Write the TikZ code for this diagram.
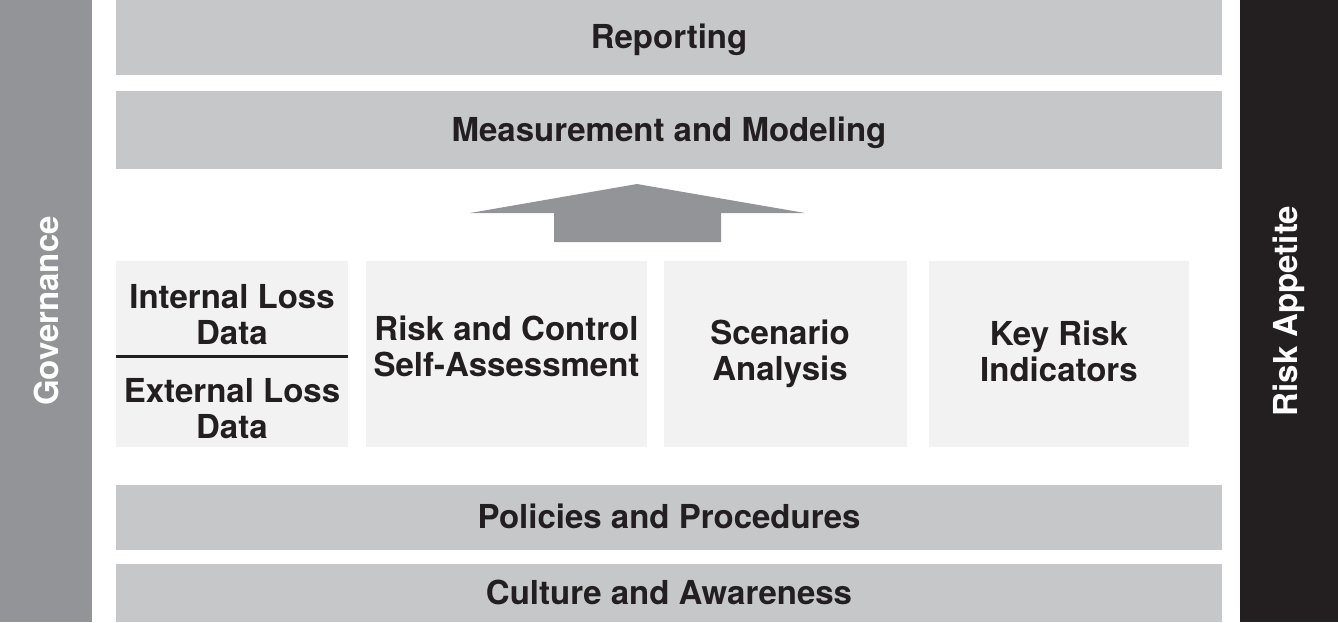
\documentclass[tikz,border=0pt]{standalone}
\usepackage{fontspec}
\setmainfont{TeX Gyre Heros}
\definecolor{bandgray}{HTML}{C6C7C9}
\definecolor{boxgray}{HTML}{F2F2F2}
\definecolor{midgray}{HTML}{939498}
\definecolor{inkblack}{HTML}{231F20}
\begin{document}
\begin{tikzpicture}[x=1pt,y=-1pt]
        \tikzstyle{band}=[rectangle,fill=bandgray,minimum width=1106pt,inner sep=0pt,text=inkblack,font=\fontsize{33}{36}\selectfont\bfseries]
        \tikzstyle{source}=[rectangle,fill=boxgray,minimum height=186pt,inner sep=0pt]
        \tikzstyle{label}=[text=inkblack,align=center,inner sep=0pt,font=\fontsize{33}{36}\selectfont\bfseries]
        \tikzstyle{pillar}=[rectangle,minimum height=622pt,inner sep=0pt]
        \tikzstyle{upright}=[rotate=90,text=white,font=\fontsize{33}{36}\selectfont\bfseries]
        \useasboundingbox (0,0) rectangle (1338,622);
        % side pillars
        \node [pillar,fill=midgray,minimum width=92pt] (gov) at (46,311) {};
        \node [upright] (govtext) at (gov.center) {Governance};
        \node [pillar,fill=inkblack,minimum width=98pt] (appetite) at (1289,311) {};
        \node [upright] (appetitetext) at (appetite.center) {Risk Appetite};
        % bands
        \node [band,minimum height=75pt] (report) at (669,37.5) {};
        \node [label] at (669,40) {Reporting};
        \node [band,minimum height=78pt] (measure) at (669,130) {};
        \node [label] at (669,133) {Measurement and Modeling};
        \node [band,minimum height=65pt] (policy) at (669,517.5) {};
        \node [label] at (669,516) {Policies and Procedures};
        \node [band,minimum height=58pt] (culture) at (669,593) {};
        \node [label] at (669,592) {Culture and Awareness};
        % data sources
        \node [source,minimum width=232pt] (loss) at (232,354) {};
        \node [label] (internal) at (232,315) {Internal Loss\\Data};
        \node [label] (external) at (232,409) {External Loss\\Data};
        \draw [inkblack,line width=3pt] (loss.west |- 0,356) -- (loss.east |- 0,356);
        \node [source,minimum width=281pt] (rcsa) at (506.5,354) {};
        \node [label] at (506.5,346) {Risk and Control\\Self-Assessment};
        \node [source,minimum width=243pt] (scenario) at (785.5,354) {};
        \node [label] at (780,354) {Scenario\\Analysis};
        \node [source,minimum width=260pt] (kri) at (1059,354) {};
        \node [label] at (1059,351) {Key Risk\\Indicators};
        % block arrow
        \coordinate (tip) at (637,184);
        \fill [midgray] (tip) -- (805,213) -- (721,213) -- (721,242) -- (554,242) -- (554,213) -- (470,213) -- cycle;
\end{tikzpicture}
\end{document}
